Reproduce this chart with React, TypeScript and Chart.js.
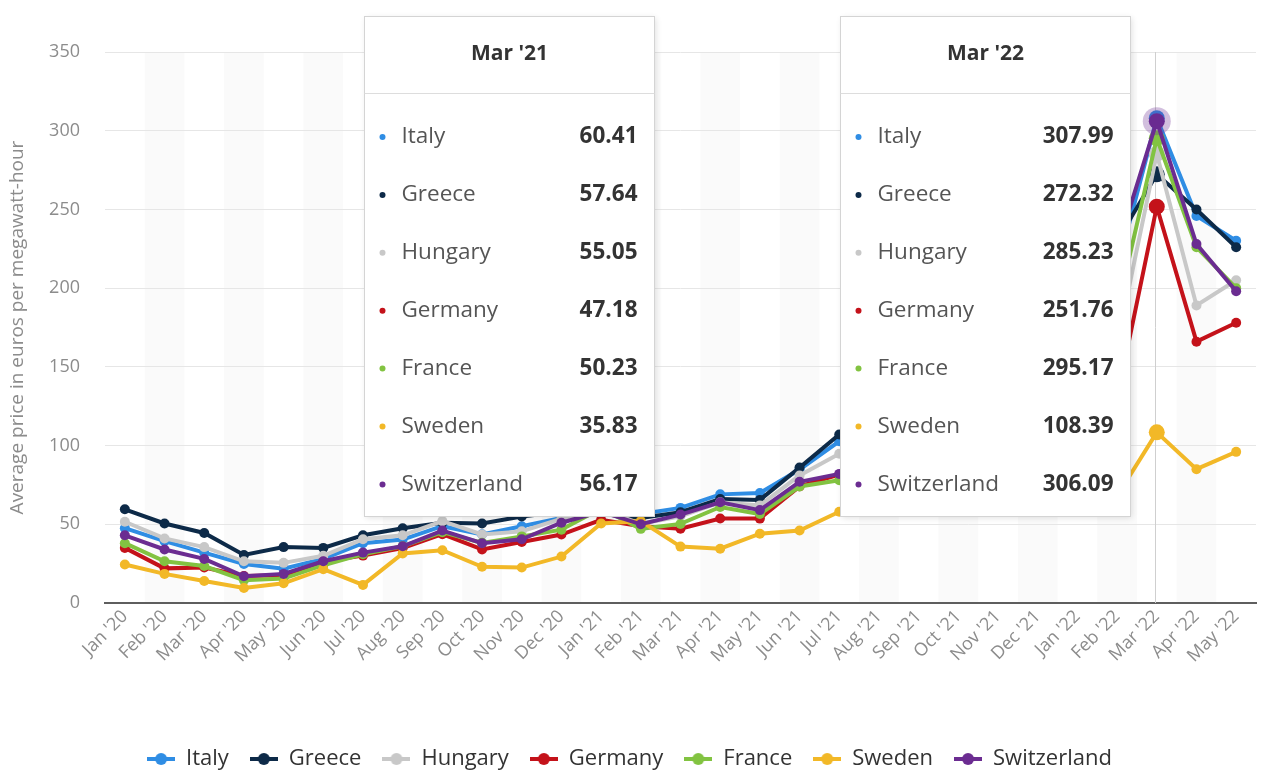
import React, { useEffect, useRef } from "react";
import { Chart, registerables } from "chart.js";

Chart.register(...registerables);

const months = [
  "Jan '20", "Feb '20", "Mar '20", "Apr '20", "May '20", "Jun '20", "Jul '20", "Aug '20", "Sep '20", "Oct '20", "Nov '20", "Dec '20",
  "Jan '21", "Feb '21", "Mar '21", "Apr '21", "May '21", "Jun '21", "Jul '21", "Aug '21", "Sep '21", "Oct '21", "Nov '21", "Dec '21",
  "Jan '22", "Feb '22", "Mar '22", "Apr '22", "May '22",
];

const italy = [47.5, 39.3, 32.0, 24.8, 21.8, 28.0, 38.0, 40.3, 48.8, 43.6, 48.8, 54.0, 60.7, 56.6, 60.41, 69.0, 69.9, 84.8, 102.7, 112.4, 158.6, 217.6, 225.9, 281.2, 224.5, 211.7, 307.99, 245.9, 230.1];
const greece = [59.5, 50.5, 44.5, 30.5, 35.5, 35.0, 43.0, 47.5, 51.0, 50.5, 55.0, 58.0, 56.5, 54.0, 57.64, 66.0, 65.5, 86.0, 107.0, 117.9, 170.0, 225.0, 228.0, 238.0, 234.0, 230.0, 272.32, 250.0, 226.0];
const hungary = [51.6, 41.0, 35.5, 26.5, 25.5, 30.0, 40.5, 43.0, 52.0, 43.5, 45.5, 53.5, 59.8, 50.3, 55.05, 64.0, 62.0, 81.0, 94.8, 104.6, 142.6, 188.3, 204.3, 250.2, 193.1, 164.1, 285.23, 189.0, 205.0];
const germany = [35.0, 22.0, 22.5, 17.1, 17.6, 26.2, 30.1, 34.9, 43.7, 34.0, 38.8, 43.5, 52.8, 48.8, 47.18, 53.7, 53.6, 74.1, 81.5, 82.7, 128.4, 139.5, 176.2, 221.1, 167.9, 130.0, 251.76, 166.0, 178.0];
const france = [38.0, 26.5, 23.5, 14.5, 15.5, 24.0, 31.0, 36.0, 45.0, 38.2, 42.3, 46.6, 60.0, 47.1, 50.23, 61.0, 56.5, 74.0, 78.0, 84.9, 135.7, 161.8, 216.8, 274.2, 211.3, 186.0, 295.17, 226.0, 200.0];
const sweden = [24.5, 18.5, 14.0, 9.5, 12.5, 21.5, 11.5, 31.5, 33.5, 23.0, 22.5, 29.5, 50.5, 52.0, 35.83, 34.5, 44.0, 46.0, 58.0, 70.0, 88.0, 62.0, 85.0, 130.0, 90.0, 68.0, 108.39, 85.0, 96.0];
const switzerland = [43.0, 34.0, 28.0, 17.0, 18.5, 26.5, 32.0, 36.0, 46.0, 38.0, 40.5, 51.0, 58.0, 50.0, 56.17, 64.0, 59.0, 77.0, 82.0, 92.0, 140.0, 170.0, 225.0, 285.0, 230.0, 225.0, 306.09, 228.0, 198.0];

const seriesNames = ["Italy", "Greece", "Hungary", "Germany", "France", "Sweden", "Switzerland"];
const seriesValues = [italy, greece, hungary, germany, france, sweden, switzerland];
const seriesColors = ["#2f8de4", "#0d2a48", "#c8c8c8", "#c4121a", "#82c341", "#f2b827", "#6b2c91"];

const yTicks = [0, 50, 100, 150, 200, 250, 300, 350];
const yTitle = "Average price in euros per megawatt-hour";
const tooltipMonths = ["Mar '21", "Mar '22"];
const hoverMonth = "Mar '22";

const FONT = '"Open Sans", sans-serif';

export default function App() {
  const canvasRef = useRef<HTMLCanvasElement | null>(null);

  useEffect(() => {
    document.body.style.margin = "0";
    document.body.style.overflow = "hidden";
    const canvas = canvasRef.current;
    if (!canvas) return;

    const hoverIdx = months.indexOf(hoverMonth);

    const legendIcons = seriesColors.map((c) => {
      const cv = document.createElement("canvas");
      cv.width = 28;
      cv.height = 14;
      const g = cv.getContext("2d")!;
      g.strokeStyle = c;
      g.lineWidth = 4;
      g.beginPath();
      g.moveTo(0, 7);
      g.lineTo(28, 7);
      g.stroke();
      g.fillStyle = c;
      g.beginPath();
      g.arc(14, 7, 6, 0, Math.PI * 2);
      g.fill();
      return cv;
    });

    const bandsPlugin = {
      id: "bands",
      beforeDraw(chart: any) {
        const { ctx, chartArea, scales } = chart;
        const x = scales.x;
        const step = x.getPixelForValue(1) - x.getPixelForValue(0);
        ctx.save();
        ctx.fillStyle = "#fafafa";
        for (let i = 1; i < months.length; i += 2) {
          const c = x.getPixelForValue(i);
          ctx.fillRect(c - step / 2, chartArea.top, step, chartArea.bottom - chartArea.top);
        }
        ctx.restore();
      },
      beforeDatasetsDraw(chart: any) {
        const { ctx, chartArea, scales } = chart;
        const px = Math.round(scales.x.getPixelForValue(hoverIdx)) - 1.5;
        ctx.save();
        ctx.strokeStyle = "#cfcfcf";
        ctx.lineWidth = 1;
        ctx.beginPath();
        ctx.moveTo(px, chartArea.top);
        ctx.lineTo(px, chartArea.bottom);
        ctx.stroke();
        ctx.restore();
      },
      afterDatasetsDraw(chart: any) {
        const { ctx, scales } = chart;
        const last = seriesValues.length - 1;
        const px = scales.x.getPixelForValue(hoverIdx);
        const py = scales.y.getPixelForValue(seriesValues[last][hoverIdx]);
        ctx.save();
        ctx.globalAlpha = 0.3;
        ctx.fillStyle = seriesColors[last];
        ctx.beginPath();
        ctx.arc(px, py, 14, 0, Math.PI * 2);
        ctx.fill();
        ctx.restore();
      },
      afterDraw(chart: any) {
        const { ctx, scales } = chart;
        tooltipMonths.forEach((m) => {
          const idx = months.indexOf(m);
          const px = scales.x.getPixelForValue(idx);
          const right = Math.round(px - 27) + 0.5;
          const left = right - 290;
          const top = 16.5;
          const bottom = 516.5;
          ctx.save();
          ctx.shadowColor = "rgba(0,0,0,0.12)";
          ctx.shadowBlur = 6;
          ctx.shadowOffsetX = 1;
          ctx.shadowOffsetY = 1;
          ctx.fillStyle = "#ffffff";
          ctx.fillRect(left, top, right - left, bottom - top);
          ctx.restore();
          ctx.save();
          ctx.strokeStyle = "#d4d4d4";
          ctx.lineWidth = 1;
          ctx.strokeRect(left, top, right - left, bottom - top);
          ctx.beginPath();
          ctx.moveTo(left, 93.5);
          ctx.lineTo(right, 93.5);
          ctx.strokeStyle = "#dddddd";
          ctx.stroke();
          ctx.textBaseline = "middle";
          ctx.textAlign = "center";
          ctx.fillStyle = "#333333";
          ctx.font = `bold 21px ${FONT}`;
          ctx.fillText(m, (left + right) / 2, 54);
          seriesNames.forEach((name, i) => {
            const y = 137 + i * 57.9;
            ctx.fillStyle = seriesColors[i];
            ctx.beginPath();
            ctx.arc(left + 18, y, 3, 0, Math.PI * 2);
            ctx.fill();
            ctx.textAlign = "left";
            ctx.fillStyle = "#555555";
            ctx.font = `22.5px ${FONT}`;
            ctx.fillText(name, left + 37, y);
            ctx.textAlign = "right";
            ctx.fillStyle = "#333333";
            ctx.font = `bold 22.5px ${FONT}`;
            ctx.fillText(seriesValues[i][idx].toFixed(2), right - 17, y);
          });
          ctx.restore();
        });
      },
    };

    const n = seriesNames.length;
    const chart = new Chart(canvas, {
      type: "line",
      data: {
        labels: months,
        datasets: seriesNames.map((name, i) => ({
          label: name,
          data: seriesValues[i],
          borderColor: seriesColors[i],
          backgroundColor: seriesColors[i],
          pointBackgroundColor: seriesColors[i],
          pointBorderColor: seriesColors[i],
          borderWidth: 4,
          pointRadius: (c: any) => (c.dataIndex === hoverIdx ? 8 : 5),
          pointBorderWidth: 0,
          tension: 0,
          order: n - 1 - i,
        })),
      },
      options: {
        animation: false,
        responsive: false,
        devicePixelRatio: 1,
        layout: { padding: { top: 52, right: 2, left: 0, bottom: -9 } },
        plugins: {
          tooltip: { enabled: false },
          legend: {
            position: "bottom",
            labels: {
              usePointStyle: true,
              pointStyleWidth: 28,
              padding: 21,
              color: "#333333",
              font: { family: FONT, size: 22 },
              generateLabels: () =>
                seriesNames.map((name, i) => ({
                  text: name,
                  fillStyle: seriesColors[i],
                  strokeStyle: seriesColors[i],
                  lineWidth: 0,
                  pointStyle: legendIcons[i] as any,
                  datasetIndex: i,
                  hidden: false,
                  fontColor: "#333333",
                })),
            },
          },
        },
        scales: {
          x: {
            type: "category",
            offset: true,
            grid: { display: false, drawTicks: false },
            border: { display: true, color: "#5e5e5e", width: 2 },
            ticks: {
              autoSkip: false,
              maxRotation: 45,
              minRotation: 45,
              padding: 3,
              color: "#8c8c8c",
              font: { family: FONT, size: 18 },
            },
            afterFit: (s: any) => {
              s.height = 124;
            },
          },
          y: {
            min: 0,
            max: 350,
            afterBuildTicks: (s: any) => {
              s.ticks = yTicks.map((v) => ({ value: v }));
            },
            grid: { color: "#e6e6e6", lineWidth: 1, drawTicks: false },
            border: { display: false },
            ticks: {
              padding: 25,
              color: "#8c8c8c",
              font: { family: FONT, size: 18 },
            },
            title: {
              display: true,
              text: yTitle,
              color: "#8c8c8c",
              font: { family: FONT, size: 19 },
              padding: { top: 6, bottom: 0 },
            },
            afterFit: (s: any) => {
              s.width = 105;
            },
          },
        },
      },
      plugins: [bandsPlugin],
    });

    return () => chart.destroy();
  }, []);

  return (
    <div style={{ width: 1261, height: 771, position: "relative" }}>
      <canvas ref={canvasRef} width={1261} height={771} />
    </div>
  );
}
